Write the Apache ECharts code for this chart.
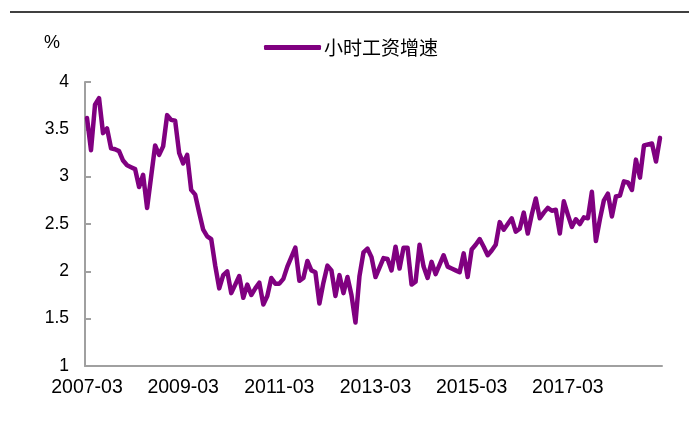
<!DOCTYPE html>
<html>
<head>
<meta charset="utf-8">
<script src="https://cdn.jsdelivr.net/npm/echarts@6/dist/echarts.min.js"></script>
<style>
  html, body { margin: 0; padding: 0; background: #fff; }
  #chart { width: 689px; height: 422px; }
</style>
</head>
<body>
<div id="chart"></div>
<script>
  /******************/
  //region    //data

  // monthly, 2007-03 .. 2019-02
  let startYear = 2007, startMonth = 3, monthCount = 144;
  let months = [];
  for (let i = 0; i < monthCount; i++) {
    let m = startMonth - 1 + i;
    let y = startYear + Math.floor(m / 12);
    let mm = (m % 12) + 1;
    months.push(y + '-' + (mm < 10 ? '0' + mm : mm));
  }

  let seriesName = '小时工资增速';

  let wageGrowth = [
    3.62, 3.28, 3.76, 3.83, 3.46, 3.51, 3.30, 3.29, 3.27, 3.17, 3.12, 3.10,
    3.08, 2.89, 3.02, 2.67, 3.00, 3.33, 3.23, 3.32, 3.65, 3.60, 3.59, 3.25,
    3.14, 3.23, 2.86, 2.81, 2.62, 2.44, 2.37, 2.34, 2.06, 1.82, 1.96, 2.00,
    1.77, 1.86, 1.95, 1.72, 1.86, 1.75, 1.82, 1.88, 1.65, 1.74, 1.93, 1.87,
    1.87, 1.92, 2.05, 2.15, 2.25, 1.90, 1.93, 2.11, 2.01, 1.99, 1.66, 1.88,
    2.06, 2.01, 1.74, 1.96, 1.77, 1.94, 1.75, 1.46, 1.95, 2.20, 2.24, 2.15,
    1.94, 2.04, 2.14, 2.13, 2.01, 2.26, 2.03, 2.25, 2.25, 1.86, 1.89, 2.28,
    2.05, 1.93, 2.10, 1.97, 2.07, 2.17, 2.05, 2.03, 2.01, 1.99, 2.19, 1.94,
    2.23, 2.28, 2.34, 2.26, 2.17, 2.22, 2.28, 2.52, 2.44, 2.50, 2.56, 2.42,
    2.45, 2.62, 2.40, 2.60, 2.77, 2.56, 2.62, 2.67, 2.64, 2.65, 2.40, 2.74,
    2.60, 2.47, 2.55, 2.50, 2.57, 2.56, 2.84, 2.32, 2.55, 2.75, 2.82, 2.58,
    2.79, 2.80, 2.95, 2.94, 2.86, 3.18, 2.99, 3.33, 3.34, 3.35, 3.16, 3.41
  ];

  let yTicks = [1, 1.5, 2, 2.5, 3, 3.5, 4];

  //endregion

  /******************/
  //region    //chart

  let chart = echarts.init(document.getElementById('chart'));
  let axisColor = '#a0a0a0';
  let textFont = '"Liberation Sans", Arial, sans-serif';

  let option = {
    animation: false,
    backgroundColor: '#fff',
    color: ['#800080'],
    grid: {
      left: 85,
      right: 27,
      top: 82,
      bottom: 56,
      containLabel: false
    },
    graphic: [
      {
        type: 'line',
        shape: {x1: 10, y1: 12, x2: 689, y2: 12},
        style: {stroke: '#000', lineWidth: 1.5}
      },
      {
        type: 'text',
        left: 44,
        top: 34,
        style: {text: '%', font: '18px ' + textFont, fill: '#000'}
      }
    ],
    legend: {
      show: true,
      orient: 'horizontal',
      data: [seriesName],
      left: 259,
      top: 33,
      itemWidth: 57,
      itemHeight: 5,
      itemGap: 4,
      icon: 'roundRect',
      textStyle: {
        fontSize: 19,
        color: '#000',
        fontFamily: '"Noto Sans CJK SC", sans-serif',
        padding: [0, 0, 0, -2]
      }
    },
    xAxis: {
      type: 'category',
      data: months,
      boundaryGap: true,
      axisLine: {lineStyle: {color: axisColor, width: 2}},
      axisTick: {
        inside: true,
        length: 6,
        interval: 23,
        lineStyle: {color: axisColor, width: 2}
      },
      axisLabel: {
        interval: 23,
        margin: 12,
        fontSize: 19.5,
        color: '#000',
        fontFamily: textFont
      },
      splitLine: {show: false}
    },
    yAxis: {
      type: 'value',
      min: yTicks[0],
      max: yTicks[yTicks.length - 1],
      interval: 0.5,
      axisLine: {show: true, lineStyle: {color: axisColor, width: 2}},
      axisTick: {show: true, inside: true, length: 6, lineStyle: {color: axisColor, width: 2}},
      axisLabel: {
        margin: 16,
        fontSize: 17.5,
        color: '#000',
        fontFamily: textFont
      },
      splitLine: {show: false}
    },
    series: [
      {
        name: seriesName,
        type: 'line',
        data: wageGrowth,
        symbol: 'none',
        lineStyle: {width: 4.5, cap: 'round', join: 'round', color: '#800080'}
      }
    ]
  };

  chart.setOption(option);

  //endregion
</script>
</body>
</html>
